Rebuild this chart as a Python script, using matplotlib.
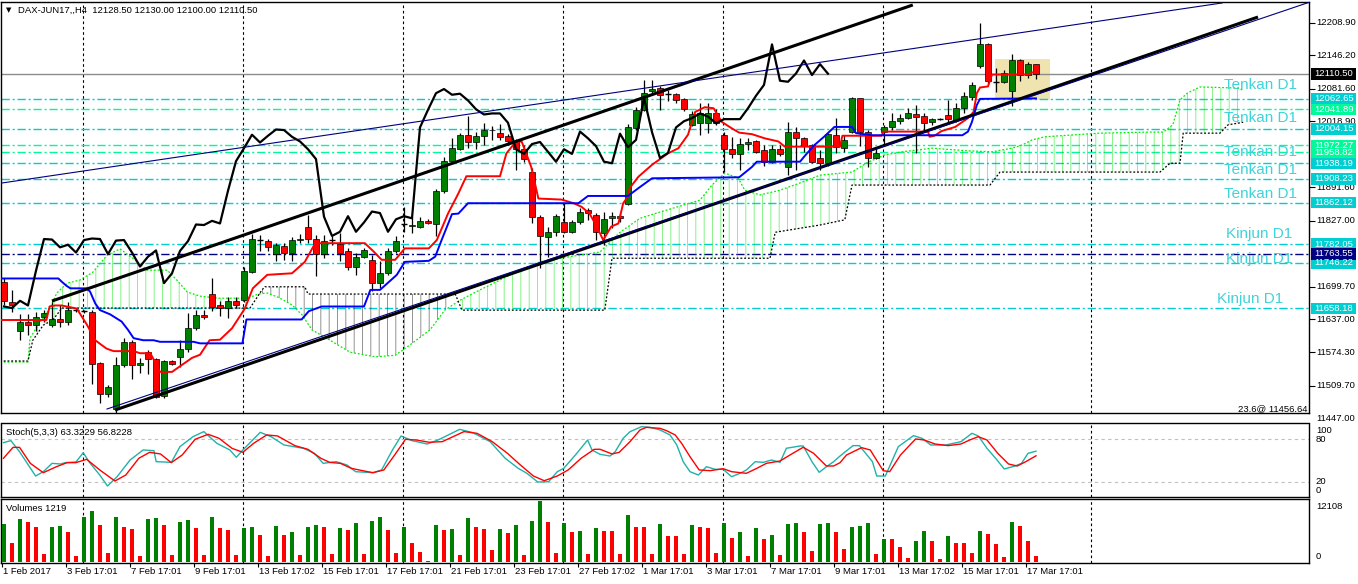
import numpy as np
import matplotlib
matplotlib.use('Agg')
from matplotlib import pyplot as plt
from matplotlib import transforms
from matplotlib.patches import Polygon, Rectangle

plt.rcParams['font.family'] = ['Liberation Sans', 'DejaVu Sans']
plt.rcParams['hatch.linewidth'] = 0.6

W, H, DPI = 1358, 584, 100

# ---------------- data (H4 bars, 1 Feb .. 17 Mar 2017) ----------------
opens = [11710, 11671, 11614, 11632, 11626, 11642, 11626, 11638, 11632, 11655,
         11653, 11652, 11553, 11493, 11464, 11549, 11594, 11549, 11575, 11560,
         11490, 11557, 11564, 11580, 11621, 11646, 11686, 11664, 11659, 11673,
         11675, 11729, 11791, 11789, 11763, 11779, 11766, 11790, 11815, 11792,
         11763, 11790, 11782, 11768, 11739, 11758, 11752, 11707, 11726, 11769,
         11820, 11818, 11816, 11827, 11821, 11885, 11942, 11965, 11993, 11978,
         11991, 12003, 11997, 11991, 11980, 11965, 11921, 11834, 11795, 11805,
         11824, 11806, 11824, 11848, 11838, 11803, 11832, 11836, 11860, 12005,
         12041, 12078, 12083, 12072, 12072, 12061, 12011, 12015, 12015, 12034,
         11992, 11965, 11956, 11975, 11981, 11964, 11941, 11965, 11930, 11998,
         11986, 11973, 11948, 11938, 11993, 11967, 11998, 12063, 11998, 11948,
         11999, 12007, 12019, 12025, 12033, 12029, 12017, 12023, 12031, 12021,
         12044, 12065, 12126, 12167, 12095, 12095, 12077, 12136, 12108, 12128.5]
highs = [11716, 11694, 11647, 11647, 11651, 11655, 11671, 11665, 11671, 11659,
         11656, 11655, 11555, 11511, 11565, 11602, 11598, 11562, 11578, 11562,
         11559, 11559, 11598, 11649, 11655, 11655, 11716, 11673, 11681, 11681,
         11739, 11801, 11800, 11792, 11784, 11784, 11795, 11801, 11838, 11800,
         11800, 11797, 11803, 11774, 11765, 11774, 11761, 11749, 11774, 11797,
         11854, 11835, 11834, 11830, 11888, 11951, 11986, 11996, 12029, 11999,
         12016, 12010, 12013, 11994, 11984, 11973, 11928, 11838, 11816, 11840,
         11862, 11829, 11851, 11851, 11842, 11845, 11845, 11843, 12014, 12047,
         12099, 12099, 12087, 12079, 12074, 12063, 12038, 12055, 12054, 12042,
         11999, 11989, 11986, 11986, 11983, 11973, 11973, 11973, 12018, 12007,
         11989, 11975, 11964, 11996, 12025, 11993, 12066, 12064, 12002, 11967,
         12012, 12034, 12032, 12044, 12050, 12034, 12025, 12026, 12059, 12054,
         12075, 12095, 12208, 12169, 12122, 12118, 12148, 12139, 12134, 12130]
lows = [11665, 11651, 11598, 11607, 11614, 11633, 11623, 11623, 11626, 11652,
        11650, 11512, 11476, 11488, 11457, 11546, 11522, 11533, 11531, 11485,
        11486, 11549, 11546, 11575, 11617, 11638, 11653, 11644, 11639, 11659,
        11671, 11726, 11768, 11768, 11749, 11752, 11749, 11784, 11784, 11720,
        11756, 11781, 11749, 11732, 11723, 11755, 11691, 11697, 11723, 11765,
        11806, 11803, 11813, 11821, 11797, 11880, 11938, 11964, 11967, 11965,
        11973, 11983, 11982, 11973, 11925, 11941, 11822, 11736, 11758, 11797,
        11803, 11803, 11820, 11829, 11790, 11781, 11813, 11824, 11858, 12002,
        12038, 12073, 12041, 12057, 12054, 12038, 12009, 11993, 11996, 12012,
        11922, 11948, 11925, 11964, 11957, 11932, 11938, 11952, 11916, 11925,
        11960, 11938, 11925, 11932, 11957, 11960, 11996, 11972, 11930, 11946,
        11975, 12002, 12013, 12023, 11957, 11999, 12012, 12021, 12015, 12018,
        12034, 12060, 12122, 12090, 12076, 12092, 12049, 12097, 12102, 12100]
closes = [11673, 11664, 11632, 11626, 11642, 11650, 11638, 11632, 11655, 11655,
          11653, 11551, 11493, 11506, 11549, 11594, 11549, 11554, 11560, 11488,
          11557, 11551, 11580, 11621, 11646, 11642, 11662, 11659, 11673, 11664,
          11731, 11792, 11791, 11776, 11781, 11766, 11790, 11793, 11792, 11763,
          11789, 11790, 11766, 11739, 11758, 11770, 11707, 11726, 11769, 11788,
          11820, 11819, 11827, 11822, 11885, 11942, 11967, 11993, 11978, 11991,
          12003, 12002, 11989, 11980, 11965, 11946, 11835, 11798, 11806, 11836,
          11806, 11824, 11845, 11842, 11806, 11830, 11836, 11832, 12007, 12041,
          12073, 12081, 12070, 12072, 12059, 12042, 12032, 12034, 12034, 12016,
          11965, 11956, 11975, 11979, 11960, 11941, 11965, 11956, 11999, 11986,
          11971, 11941, 11938, 11995, 11969, 11983, 12064, 11998, 11948, 11958,
          12007, 12019, 12025, 12034, 12028, 12015, 12023, 12023, 12023, 12044,
          12068, 12089, 12167, 12097, 12095, 12111, 12136, 12108, 12129, 12110.5]
volumes = [7590, 3762, 8580, 7986, 6996, 1650, 6996, 7062, 6006, 1254,
           8976, 10164, 7392, 1848, 8976, 6996, 6600, 1254, 8580, 8646,
           7392, 1452, 7986, 8382, 6798, 1452, 8976, 6798, 6402, 1452,
           6798, 6996, 5412, 1254, 7194, 5412, 6006, 1452, 6996, 7392,
           6996, 1650, 6798, 6402, 7788, 1650, 8184, 8976, 6402, 1848,
           6996, 3828, 2046, 264, 7392, 6402, 6600, 1452, 8778, 6996,
           6600, 2442, 6600, 5808, 7392, 1452, 8184, 12108, 7986, 1848,
           7788, 6006, 6204, 1650, 6798, 6204, 6150, 1650, 9372, 6996,
           6930, 1650, 7590, 5214, 5150, 1650, 7392, 6996, 6798, 1848,
           7788, 4818, 6006, 1254, 6798, 4620, 5412, 1452, 7590, 7788,
           6006, 2244, 7590, 7788, 6006, 2640, 6996, 7194, 7788, 1650,
           4620, 4560, 3036, 858, 4224, 6204, 4224, 660, 5214, 3828,
           3800, 1848, 6204, 5610, 3630, 1056, 7986, 7194, 4224, 1219]
date_labels = ['1 Feb 2017', '3 Feb 17:01', '7 Feb 17:01', '9 Feb 17:01', '13 Feb 17:02',
               '15 Feb 17:01', '17 Feb 17:01', '21 Feb 17:01', '23 Feb 17:01', '27 Feb 17:02',
               '1 Mar 17:01', '3 Mar 17:01', '7 Mar 17:01', '9 Mar 17:01', '13 Mar 17:02',
               '15 Mar 17:01', '17 Mar 17:01']

# ichimoku lines (bar, price) as traced
tenkan = [(-0.5, 11636), (5.3, 11636), (5.7, 11662), (6.4, 11664), (7.2, 11664), (9.1, 11658),
          (10.4, 11626), (11.4, 11597), (12.8, 11581), (13.7, 11576), (16.2, 11576), (17, 11572),
          (18.3, 11572), (19.5, 11536), (21.0, 11536), (22.2, 11549), (23.5, 11563), (24.5, 11569),
          (25.7, 11597), (27, 11598), (28.5, 11620), (30.1, 11658), (31.1, 11697), (32.9, 11723),
          (36, 11726), (37.6, 11748), (38.9, 11784), (45.1, 11784), (46.2, 11768), (47.2, 11752),
          (48.9, 11752), (50.1, 11774), (53.1, 11774), (54.1, 11790), (55.5, 11841), (56.8, 11880),
          (57.8, 11913), (62, 11913), (62.8, 11957), (63.9, 11978), (64.7, 11980), (65.1, 11964),
          (65.9, 11931), (66.8, 11870), (69.7, 11868), (71.2, 11861), (72.2, 11854), (73.2, 11841),
          (74.1, 11816), (74.9, 11790), (75.9, 11816), (76.8, 11822), (77.4, 11861), (78, 11874),
          (78.2, 11890), (79.3, 11912), (81, 11935), (83, 11957), (84.3, 11967), (85.5, 11993),
          (86.4, 12037), (87.6, 12046), (88.7, 12044), (89.7, 12018), (91, 12005), (91.9, 11997),
          (93.5, 11994), (95.1, 11986), (96.8, 11980), (97.6, 11970), (104.5, 11970),
          (104.8, 11991), (109.7, 11991), (109.9, 11999), (115.5, 11999), (115.7, 11989),
          (116.3, 11991), (117.2, 12000), (118.9, 12008), (120.5, 12025), (121.2, 12037),
          (121.6, 12073), (122, 12084), (123, 12086), (123.5, 12109), (128.1, 12109),
          (128.5, 12113), (129, 12113)]
kijun = [(-0.5, 11716), (6.8, 11716), (7.2, 11710), (7.8, 11702), (8.3, 11697), (10.3, 11697),
         (10.75, 11691), (11.4, 11668), (12, 11655), (13.25, 11647), (14.7, 11633), (15.5, 11617),
         (16.2, 11601), (17.4, 11597), (18.7, 11597), (19.5, 11594), (23.7, 11594), (24.5, 11591),
         (29.8, 11591), (30.3, 11637), (37.2, 11637), (38.1, 11653), (39.7, 11662), (45, 11662),
         (45.8, 11694), (47, 11694), (49.1, 11723), (50.1, 11748), (53.1, 11750), (53.9, 11758),
         (54.7, 11790), (56, 11840), (56.8, 11841), (58, 11861), (71.8, 11861), (73, 11875),
         (78, 11875), (79.3, 11890), (81, 11909), (91.9, 11911), (93.5, 11931), (94.1, 11941),
         (99.5, 11941), (100.2, 11954), (101.3, 11973), (102.5, 11989), (103.8, 12008),
         (106, 12008), (106.5, 11996), (108.5, 11992), (119.8, 11992), (120.5, 11999),
         (121, 12018), (121.6, 12050), (122, 12062), (129, 12063)]
senkou_a = [(-0.5, 11555), (3, 11555), (3.25, 11601), (4.25, 11626), (4.9, 11640), (5.75, 11659),
            (6.6, 11688), (7.9, 11707), (9.5, 11713), (11.1, 11728), (12.9, 11761), (14.5, 11773),
            (16.1, 11755), (17.9, 11732), (20.4, 11732), (21.6, 11713), (22.9, 11690), (24.5, 11682),
            (26.75, 11678), (30.5, 11678), (31.75, 11686), (32.9, 11688), (34.25, 11680),
            (36, 11665), (37.25, 11646), (38.5, 11617), (40.75, 11597), (43.25, 11574),
            (46.4, 11565), (48.9, 11568), (50.75, 11588), (53.25, 11617), (55.1, 11655),
            (57, 11674), (59.5, 11694), (62, 11713), (64.5, 11732), (67, 11748), (69.5, 11755),
            (74.5, 11767), (77, 11805), (79.5, 11832), (82, 11844), (87, 11867), (88.5, 11896),
            (90.1, 11919), (91.75, 11910), (92.6, 11886), (94.5, 11877), (97, 11886),
            (99.5, 11900), (102, 11915), (106, 11921), (108, 11940), (110.1, 11954),
            (112.25, 11960), (116, 11967), (120.5, 11962), (123.5, 11960), (126, 11967),
            (127.25, 11973), (128.5, 11983), (130.1, 11989), (137, 11996), (143.25, 11998),
            (144.9, 11998), (146.1, 12012), (147, 12060), (147.9, 12073), (149.5, 12085),
            (154.1, 12083), (154.9, 12079)]
senkou_b = [(-0.5, 11557), (3, 11557), (3.6, 11597), (4.9, 11626), (6.1, 11636), (7.25, 11659),
            (30.75, 11659), (32.25, 11694), (32.6, 11700), (37.6, 11700), (38, 11686),
            (56.4, 11686), (57.25, 11655), (75.1, 11655), (76, 11755), (95.75, 11755),
            (96.4, 11805), (102, 11819), (105.1, 11829), (106, 11896), (123.25, 11896),
            (124.5, 11921), (144.5, 11921), (145.75, 11938), (147, 11938), (147.4, 11996),
            (152, 11996), (153, 12012), (154.9, 12017)]
cloud_parts = [(-0.5, 31.0, 'bull'), (31.0, 56.6, 'bear'), (56.6, 156.0, 'bull')]

# Stochastic(5,3,3) main and signal as traced
stoch_main = [(-0.07, 75.3), (0.86, 78.1), (1.94, 62.6), (3.95, 28.4), (4.92, 34.5), (6.0, 46.2),
              (7.09, 45.3), (7.63, 47.2), (8.99, 48.1), (9.91, 61.2), (10.61, 48.6), (11.97, 29.8),
              (12.94, 14.3), (14.14, 27.5), (15.76, 50.9), (17.39, 65.0), (18.74, 64.0), (19.02, 48.6),
              (20.91, 47.6), (22.0, 69.7), (23.62, 83.7), (24.98, 90.8), (26.6, 74.4), (28.23, 65.0),
              (29.04, 54.7), (29.86, 65.0), (32.03, 89.8), (33.38, 83.7), (35.01, 72.0), (37.45, 67.3),
              (38.8, 60.3), (39.89, 46.2), (41.51, 48.6), (42.87, 43.9), (43.95, 34.5), (46.12, 33.1),
              (47.2, 36.9), (48.56, 65.0), (49.64, 84.7), (51.0, 78.1), (52.9, 73.4), (54.25, 79.0),
              (56.96, 94.0), (58.59, 89.4), (60.76, 76.7), (62.65, 53.3), (64.28, 39.2), (65.36, 32.2),
              (66.72, 20.0), (68.08, 20.4), (69.16, 34.5), (69.97, 39.2), (71.6, 60.3), (72.95, 79.0),
              (73.5, 65.0), (74.5, 58.9), (75.75, 56.5), (76.4, 62.6), (77.4, 81.4), (78.25, 90.7),
              (79.7, 97.8), (80.75, 96.8), (82.0, 93.1), (83.25, 86.1), (84.1, 72.0), (84.9, 48.5),
              (85.75, 34.5), (86.8, 29.8), (87.8, 41.5), (88.9, 37.8), (89.9, 37.8), (90.95, 27.4),
              (92.0, 32.2), (92.8, 36.9), (93.9, 48.5), (94.9, 47.6), (95.95, 50.9), (97.0, 47.6),
              (97.8, 67.4), (99.5, 70.6), (99.9, 70.6), (101.0, 48.5), (101.9, 33.6), (102.8, 41.5),
              (103.7, 48.5), (104.5, 56.5), (106.12, 71.1), (106.93, 71.1), (108.55, 48.6),
              (109.09, 28.4), (110.17, 28.4), (111.79, 69.7), (113.68, 85.1), (114.76, 81.4),
              (115.84, 72.0), (117.73, 72.0), (119.63, 76.7), (120.98, 88.4), (121.79, 84.7),
              (122.87, 67.3), (123.95, 53.3), (125.03, 38.3), (126.38, 42.5), (127.19, 46.2),
              (128.0, 60.3), (129.0, 63.3229)]
stoch_signal = [(-0.07, 53.3), (1.13, 68.7), (1.94, 68.7), (3.29, 46.2), (4.92, 33.1), (6.55, 41.5),
                (7.9, 47.2), (8.99, 47.2), (10.34, 51.9), (11.97, 36.9), (13.87, 21.4), (15.22, 29.8),
                (16.85, 53.3), (18.2, 61.7), (19.56, 59.4), (20.91, 47.2), (22.27, 57.9), (23.89, 80.0),
                (25.52, 87.0), (26.88, 81.4), (28.5, 67.3), (29.86, 61.7), (31.21, 74.4), (32.84, 86.1),
                (34.19, 84.7), (36.36, 71.1), (37.99, 65.9), (39.62, 53.3), (40.7, 47.6), (42.06, 46.2),
                (43.41, 39.2), (45.04, 35.4), (46.12, 33.1), (47.48, 36.9), (48.83, 57.9), (50.19, 80.0),
                (51.54, 79.0), (53.17, 75.8), (54.79, 76.7), (57.5, 90.8), (59.13, 88.4), (61.03, 76.7),
                (62.93, 60.3), (64.55, 43.9), (66.18, 28.4), (67.53, 21.8), (69.16, 28.4), (70.52, 36.9),
                (72.14, 53.3), (73.77, 65.9), (74.5, 66.0), (76.0, 59.4), (76.9, 61.7), (78.25, 76.7),
                (79.5, 93.1), (80.3, 96.8), (82.0, 95.4), (82.8, 92.2), (83.9, 86.1), (84.7, 74.4),
                (85.75, 55.6), (86.9, 36.9), (88.25, 35.9), (89.9, 38.7), (90.95, 34.5), (92.8, 32.2),
                (94.1, 39.2), (95.3, 46.2), (97.0, 49.5), (98.6, 60.3), (99.9, 68.8), (101.2, 60.3),
                (102.8, 42.5), (103.7, 42.5), (104.5, 47.1), (105.31, 57.9), (107.2, 68.3),
                (108.28, 65.0), (109.9, 35.9), (110.71, 34.5), (112.06, 57.9), (113.95, 80.5),
                (115.03, 79.0), (116.38, 73.4), (118.0, 71.1), (119.63, 73.4), (120.71, 79.0),
                (121.79, 83.7), (122.87, 79.0), (124.22, 60.3), (125.57, 45.3), (126.65, 42.5),
                (127.73, 48.6), (129.0, 56.8228)]

# drawn objects: trend lines (bar, price) -> (bar, price)
channel_thick = [((13.875, 11462.5), (156.75, 12219.8)), ((6.0, 11672.6), (113.6, 12243.0))]
channel_thin = [((12.875, 11464.5), (163.25, 12248.7)), ((-0.5, 11899.4), (152.25, 12246.8))]
box_bars = (123.9, 130.75)
box_prices = (12059.9, 12138.9)

# horizontal levels
tenkan_d1_levels = [12062.65, 12004.15, 11938.19, 11908.23, 11862.12]
kijun_d1_levels = [11782.05, 11746.22, 11658.18]
green_levels = [12041.89, 11972.27, 11958.82]
navy_level = 11763.55
bid = 12110.50
tenkan_texts = [(161.6, 12088), (161.6, 12025), (161.6, 11960), (161.6, 11925), (161.6, 11879)]
kijun_texts = [(161.0, 11802), (161.0, 11753), (159.9, 11676)]
fibo_text = '23.6@ 11456.64'

main_ticks = [12208.90, 12146.20, 12081.60, 12018.90, 11891.60, 11827.00,
              11699.70, 11637.00, 11574.30, 11509.70, 11447.00]
stoch_ticks = [(92.1, '100'), (80, '80'), (20, '20'), (8.3, '0')]
vol_ticks = [(10977, '12108'), (1052, '0')]
grid_bars = [9.875, 29.875, 49.875, 69.875, 89.875, 109.875, 135.875]

# ---------------- layout helpers ----------------
def px_rect(x0, y0, x1, y1):
  """ axes box from pixel coordinates (origin top-left) """
  return [x0 / W, 1 - y1 / H, (x1 - x0) / W, (y1 - y0) / H]

FS = 6.8
CYAN = '#00CED1'
SPRING = '#00FA9A'
DASHDOT = (0, (6, 2, 1.5, 2))
GRIDDASH = (0, (2.4, 2.4))
TAG_W = 45 / 1308      # price tag width, axes fraction
TAG_H = 5.8 * 1.927    # half tag height, price units

fig = plt.figure(figsize=(W / DPI, H / DPI), dpi=DPI)
fig.patch.set_facecolor('white')
ax = fig.add_axes(px_rect(1, 2, 1309, 413))
ax_st = fig.add_axes(px_rect(1, 423.5, 1309, 497.3))
ax_vol = fig.add_axes(px_rect(1, 499.3, 1309, 562.5))

XLIM = (-0.375, 163.125)
for a in (ax, ax_st, ax_vol):
  a.set_xlim(*XLIM)
  a.set_xticks([])
  for s in a.spines.values():
    s.set_color('black')
    s.set_linewidth(1.0)
  for g in grid_bars:
    a.axvline(g, color='black', lw=0.8, linestyle=GRIDDASH, zorder=1)
ax.set_ylim(11456.8, 12248.7)
ax_st.set_ylim(-1.5, 102.2)
ax_vol.set_ylim(-99, 12446)

right_lab = transforms.blended_transform_factory(ax.transAxes, ax.transData)

# ---------------- main panel ----------------
x = np.arange(len(closes))
o, h, l, c = (np.array(v, dtype=float) for v in (opens, highs, lows, closes))

# yellow box, bid line, horizontal levels
ax.add_patch(Rectangle((box_bars[0], box_prices[0]), box_bars[1] - box_bars[0],
                       box_prices[1] - box_prices[0], facecolor='#EFE4B0', edgecolor='none', zorder=0.5))
ax.axhline(bid, color='#8C8C8C', lw=1.0, zorder=1.5)
for v in tenkan_d1_levels + kijun_d1_levels:
  ax.axhline(v, color=CYAN, lw=1.0, linestyle=DASHDOT, zorder=1.6)
for v in green_levels:
  ax.axhline(v, color=SPRING, lw=1.0, linestyle=DASHDOT, zorder=1.6)
ax.axhline(navy_level, color='#000080', lw=1.0, linestyle=DASHDOT, zorder=1.6)

# kumo: hatched between the two spans
ax_, ay_ = zip(*senkou_a)
bx_, by_ = zip(*senkou_b)
for x0, x1, kind in cloud_parts:
  top = [(px, py) for px, py in senkou_a if x0 <= px <= x1]
  bot = [(px, py) for px, py in senkou_b if x0 <= px <= x1]
  col = (0.0, 0.9, 0.0, 0.55) if kind == 'bull' else (0.0, 0.0, 0.0, 0.5)
  ax.add_patch(Polygon(top + bot[::-1], closed=True, fill=False, hatch='||',
                       edgecolor=col, lw=0, zorder=1.8))
ax.plot(ax_, ay_, color='#00EE00', lw=0.9, linestyle=(0, (1.5, 1.5)), zorder=2)
ax.plot(bx_, by_, color='black', lw=0.9, linestyle=(0, (1.5, 1.5)), zorder=2)

# candles
ax.vlines(x, l, h, color='black', lw=0.9, zorder=3)
up = c > o
dn = c < o
fl = c == o
ax.bar(x[up], (c - o)[up], bottom=o[up], width=0.72, color='#008000',
       edgecolor='black', linewidth=0.5, zorder=4)
ax.bar(x[dn], (o - c)[dn], bottom=c[dn], width=0.72, color='#FF0000',
       edgecolor='black', linewidth=0.5, zorder=4)
ax.hlines(c[fl], x[fl] - 0.36, x[fl] + 0.36, color='black', lw=1.0, zorder=4)

# ichimoku lines, chikou = close shifted back 26 bars
tx, ty = zip(*tenkan)
kx, ky = zip(*kijun)
ax.plot(tx, ty, color='#FF0000', lw=1.4, zorder=5)
ax.plot(kx, ky, color='#0000FF', lw=1.4, zorder=5)
ax.plot(x[:-26], c[26:], color='black', lw=1.6, zorder=5)

# trend lines
for (p0, p1) in channel_thick:
  ax.plot([p0[0], p1[0]], [p0[1], p1[1]], color='black', lw=2.2, zorder=6, solid_capstyle='butt')
for (p0, p1) in channel_thin:
  ax.plot([p0[0], p1[0]], [p0[1], p1[1]], color='#000080', lw=0.8, zorder=6)

# level texts
for bx, py in tenkan_texts:
  ax.text(bx, py, 'Tenkan D1', ha='right', va='center', fontsize=11, color='#3FD3DA', zorder=7)
for bx, py in kijun_texts:
  ax.text(bx, py, 'Kinjun D1', ha='right', va='center', fontsize=11, color='#3FD3DA', zorder=7)
ax.text(0.9985, 11466, fibo_text, transform=right_lab, ha='right', va='center', fontsize=FS)

# right price scale
ax.set_yticks([t for t in main_ticks if t >= 11456.8])
ax.tick_params(axis='y', left=False, right=True, labelleft=False, labelright=False,
               length=4, width=0.8, direction='out')
for t in main_ticks:
  ax.text(1.0053, t, '%.2f' % t, transform=right_lab, ha='left', va='center',
          fontsize=FS, clip_on=False)

def price_tag(v, fc):
  """ coloured price label on the right scale """
  ax.add_patch(Rectangle((1.0015, v - TAG_H), TAG_W, 2 * TAG_H, transform=right_lab,
                         facecolor=fc, edgecolor='none', clip_on=False, zorder=9))
  ax.text(1.0038, v, '%.2f' % v, transform=right_lab, ha='left', va='center', fontsize=FS,
          color='white', clip_on=False, zorder=10)

for v in kijun_d1_levels + tenkan_d1_levels:
  price_tag(v, CYAN)
for v in green_levels:
  price_tag(v, SPRING)
price_tag(navy_level, '#000080')
price_tag(bid, 'black')

fig.text(6 / W, 1 - 10 / H, '\u25BC', fontsize=5, va='center', ha='left', family='DejaVu Sans')
fig.text(18 / W, 1 - 10 / H, 'DAX-JUN17,,H4  %.2f %.2f %.2f %.2f' % (opens[-1], highs[-1], lows[-1], closes[-1]),
         fontsize=FS, va='center', ha='left')

# ---------------- stochastic ----------------
st_lab = transforms.blended_transform_factory(ax_st.transAxes, ax_st.transData)
for lvl in (20, 80):
  ax_st.axhline(lvl, color='#C0C0C0', lw=0.8, linestyle=(0, (3, 3)), zorder=1)
sx, sy = zip(*stoch_main)
gx, gy = zip(*stoch_signal)
ax_st.plot(sx, sy, color='#20B2AA', lw=1.0, zorder=3)
ax_st.plot(gx, gy, color='#FF0000', lw=1.0, zorder=3)
ax_st.set_yticks([])
for v, s in stoch_ticks:
  ax_st.text(1.0053, v, s, transform=st_lab, ha='left', va='center', fontsize=FS, clip_on=False)
ax_st.text(0.004, 0.88, 'Stoch(5,3,3) %.4f %.4f' % (stoch_main[-1][1], stoch_signal[-1][1]),
           transform=ax_st.transAxes, fontsize=FS, va='center', ha='left')

# ---------------- volumes ----------------
vol = np.array(volumes)
vol_up = np.r_[True, vol[1:] > vol[:-1]]
ax_vol.bar(x, vol, width=0.42, color=np.where(vol_up, '#008000', '#FF0000'), zorder=3)
ax_vol.set_yticks([])
vol_lab = transforms.blended_transform_factory(ax_vol.transAxes, ax_vol.transData)
for v, s in vol_ticks:
  ax_vol.text(1.0053, v, s, transform=vol_lab, ha='left', va='center', fontsize=FS, clip_on=False)
ax_vol.text(0.004, 0.85, 'Volumes %d' % volumes[-1], transform=ax_vol.transAxes,
            fontsize=FS, va='center', ha='left')

# time axis
date_bars = np.arange(len(date_labels)) * 8
ax_vol.set_xticks(date_bars - 0.2)
ax_vol.set_xticklabels([])
ax_vol.tick_params(axis='x', length=3, width=0.8, direction='out', bottom=True)
date_lab = transforms.blended_transform_factory(ax_vol.transData, ax_vol.transAxes)
for b, s in zip(date_bars, date_labels):
  ax_vol.text(b - 0.1, -0.07, s, transform=date_lab, ha='left', va='top', fontsize=FS, clip_on=False)

fig.savefig('out.png', dpi=DPI)
